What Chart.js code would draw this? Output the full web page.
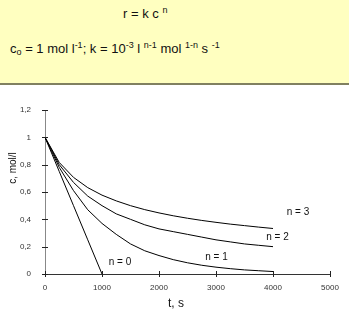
<!DOCTYPE html>
<html>
<head>
<meta charset="utf-8">
<script src="https://cdn.jsdelivr.net/npm/chart.js@4"></script>
<style>
  body { margin: 0; width: 349px; height: 322px; overflow: hidden; background: #fff; font-family: "Liberation Sans", Arial, sans-serif; }
  #head { position: absolute; left: 0; top: 0; width: 349px; height: 83px; background: #ffffc0; border-bottom: 2px solid #808060; color: #111; z-index: 2; }
  #head .l1 { position: absolute; left: 123px; top: 5px; font-size: 13px; white-space: nowrap; }
  #head .l2 { position: absolute; left: 10px; top: 40px; font-size: 13px; white-space: nowrap; }
  sup, sub { font-size: 9px; }
  sup { vertical-align: 5px; }
  sub { vertical-align: -2px; }
  #wrap { position: absolute; left: 0; top: 0; width: 349px; height: 322px; }
</style>
</head>
<body>
<div id="head">
  <div class="l1">r = k c <sup>n</sup></div>
  <div class="l2">c<sub>o</sub> = 1 mol l<sup>-1</sup>; k = 10<sup>-3</sup> l <sup>n-1</sup> mol <sup>1-n</sup> s <sup>-1</sup></div>
</div>
<div id="wrap"><canvas id="chartId" width="349" height="322"></canvas></div>
<script>
// time points, s
var times = [0, 250, 500, 750, 1000, 1250, 1500, 1750, 2000, 2250, 2500, 2750, 3000, 3250, 3500, 3750, 4000];
// concentrations, mol/l
var n0 = [1, 0.75, 0.5, 0.25, 0];
var n1 = [1, 0.78, 0.61, 0.47, 0.37, 0.29, 0.22, 0.17, 0.135, 0.105, 0.082, 0.064, 0.05, 0.039, 0.03, 0.024, 0.018];
var n2 = [1, 0.8, 0.67, 0.57, 0.5, 0.44, 0.4, 0.36, 0.33, 0.31, 0.29, 0.27, 0.25, 0.235, 0.22, 0.21, 0.2];
var n3 = [1, 0.816, 0.707, 0.632, 0.577, 0.535, 0.5, 0.471, 0.447, 0.426, 0.408, 0.392, 0.378, 0.365, 0.354, 0.343, 0.333];
var seriesNames = ['n = 0', 'n = 1', 'n = 2', 'n = 3'];
// where the series names sit, in data units [t, c]
var nameSpots = [[1316, 0.088], [3009, 0.124], [4079, 0.271], [4439, 0.454]];
var xTicks = ['0', '1000', '2000', '3000', '4000', '5000'];
var yTicks = ['0', '0,2', '0,4', '0,6', '0,8', '1', '1,2'];

function pts(vals) {
    return vals.map(function (v, i) { return { x: times[i], y: v }; });
}

var fontFam = '"Liberation Sans", Arial, sans-serif';

var extras = {
    id: 'extras',
    afterDraw: function (chart) {
        var ctx = chart.ctx;
        var xs = chart.scales.x, ys = chart.scales.y;
        ctx.save();
        // ticks crossing the axes
        ctx.strokeStyle = '#222';
        ctx.lineWidth = 1;
        ctx.beginPath();
        for (var i = 0; i < xTicks.length; i++) {
            var px = Math.round(xs.getPixelForValue(i * 1000)) + 0.5;
            ctx.moveTo(px, ys.bottom - 3);
            ctx.lineTo(px, ys.bottom + 3);
        }
        for (var j = 0; j < yTicks.length; j++) {
            var py = Math.round(ys.getPixelForValue(j * 0.2)) + 0.5;
            ctx.moveTo(xs.left - 3, py);
            ctx.lineTo(xs.left + 3, py);
        }
        ctx.stroke();
        // series names
        ctx.fillStyle = '#111';
        ctx.font = '10px ' + fontFam;
        ctx.textAlign = 'center';
        ctx.textBaseline = 'middle';
        nameSpots.forEach(function (s, k) {
            ctx.fillText(seriesNames[k], xs.getPixelForValue(s[0]), ys.getPixelForValue(s[1]));
        });
        // axis titles
        ctx.font = '12px ' + fontFam;
        ctx.fillText('t, s', 176, 304);
        ctx.translate(13, 168);
        ctx.rotate(-Math.PI / 2);
        ctx.font = '10px ' + fontFam;
        ctx.fillText('c, mol/l', 0, 0);
        ctx.restore();
    }
};

var chrt = document.getElementById('chartId').getContext('2d');
var lineStyle = { borderColor: '#000', borderWidth: 1, pointRadius: 0, fill: false, tension: 0 };
var chartId = new Chart(chrt, {
    type: 'line',
    data: {
        datasets: [
            Object.assign({ label: seriesNames[0], data: pts(n0) }, lineStyle),
            Object.assign({ label: seriesNames[1], data: pts(n1) }, lineStyle),
            Object.assign({ label: seriesNames[2], data: pts(n2) }, lineStyle),
            Object.assign({ label: seriesNames[3], data: pts(n3) }, lineStyle)
        ]
    },
    options: {
        responsive: false,
        animation: false,
        layout: { padding: { left: 0, top: 110, right: 19, bottom: 0 } },
        plugins: { legend: { display: false }, tooltip: { enabled: false } },
        scales: {
            x: {
                type: 'linear',
                min: 0,
                max: 5000,
                grid: { display: false },
                border: { color: '#333', width: 1 },
                afterFit: function (s) { s.height = 48; },
                ticks: {
                    stepSize: 1000,
                    padding: 1,
                    color: '#333',
                    font: { size: 8, family: fontFam },
                    maxRotation: 0,
                    callback: function (v) { return xTicks[Math.round(v / 1000)]; }
                }
            },
            y: {
                min: 0,
                max: 1.2,
                grid: { display: false },
                border: { color: '#888', width: 1 },
                afterFit: function (s) { s.width = 45; },
                ticks: {
                    stepSize: 0.2,
                    padding: 6,
                    color: '#333',
                    font: { size: 8, family: fontFam },
                    callback: function (v) { return yTicks[Math.round(v / 0.2)]; }
                }
            }
        }
    },
    plugins: [extras]
});
</script>
</body>
</html>
